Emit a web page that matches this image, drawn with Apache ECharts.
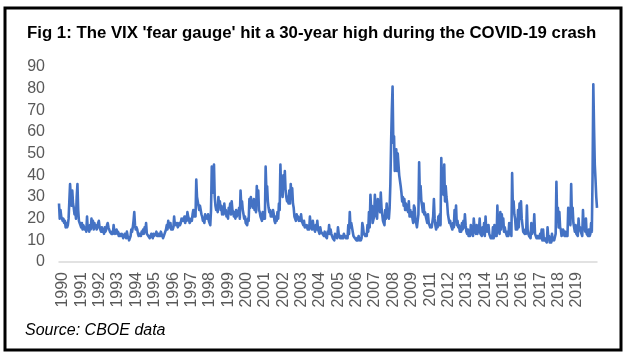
<!DOCTYPE html>
<html>
<head>
<meta charset="utf-8">
<script src="https://cdn.jsdelivr.net/npm/echarts@6/dist/echarts.min.js"></script>
<style>
html,body{margin:0;padding:0;background:#fff;}
#chart{width:630px;height:358px;}
</style>
</head>
<body>
<div id="chart"></div>
<script>
// Tick labels as shown on the original category axis (2010 is skipped there)
const tickLabels = ['1990','1991','1992','1993','1994','1995','1996','1997','1998','1999',
  '2000','2001','2002','2003','2004','2005','2006','2007','2008','2009',
  '2011','2012','2013','2014','2015','2016','2017','2018','2019'];
const yTicks = [0,10,20,30,40,50,60,70,80,90];

// VIX readings, two per month (first half, second half)
const vix1990s = [
  27,20, 24,21, 21,19, 20,18, 19,16, 18,16, 17,20, 28,36, 30,26, 33,27, 25,22, 24,20,
  30,36, 24,19, 18,17, 16,18, 15,17, 17,15, 16,14, 21,15, 16,14, 17,15, 20,16, 19,15,
  18,16, 17,15, 16,18, 19,16, 15,14, 16,14, 15,13, 16,14, 15,17, 18,16, 16,14, 14,13,
  14,13, 17,14, 13,14, 15,13, 14,12, 13,12, 12,13, 12,11, 12,13, 12,11, 14,12, 11,10,
  10,12, 15,14, 16,19, 23,17, 15,16, 15,13, 12,13, 13,12, 14,13, 15,13, 16,14, 18,13,
  13,12, 12,11, 12,13, 12,11, 13,12, 12,13, 14,12, 13,12, 13,12, 14,13, 12,11, 12,13,
  13,15, 17,15, 19,17, 16,18, 15,16, 15,16, 21,17, 18,17, 18,16, 17,18, 17,18, 20,19,
  20,19, 21,18, 21,19, 23,21, 20,18, 19,20, 19,22, 24,21, 23,21, 38,30, 30,26, 24,26,
  26,22, 21,19, 20,18, 22,20, 21,20, 22,19, 18,17, 24,44, 38,32, 45,30, 26,24, 26,23,
  30,26, 28,24, 26,22, 25,22, 27,23, 24,21, 23,20, 25,24, 27,22, 28,24, 23,21, 23,20
];
const vix2000s = [
  24,21, 23,22, 25,20, 33,26, 28,24, 22,20, 21,18, 18,17, 20,19, 29,25, 30,26, 28,25,
  29,24, 27,23, 35,28, 33,24, 23,21, 21,19, 23,20, 22,20, 44,33, 35,28, 25,23, 24,21,
  23,21, 24,22, 19,18, 21,19, 23,20, 27,24, 45,33, 35,30, 40,34, 42,33, 30,28, 30,27,
  33,27, 36,31, 34,27, 25,21, 21,19, 22,20, 21,19, 20,19, 22,19, 18,17, 19,16, 17,16,
  17,15, 16,15, 21,17, 17,15, 19,16, 16,14, 17,15, 19,15, 14,13, 16,14, 14,13, 13,12,
  14,12, 12,11, 14,13, 17,13, 15,13, 12,11, 11,10, 13,12, 12,11, 16,13, 12,11, 12,11,
  12,11, 13,12, 12,11, 12,11, 17,13, 23,16, 18,16, 14,12, 12,11, 11,10, 11,10, 12,10,
  11,10, 11,18, 16,13, 13,12, 13,12, 17,14, 23,16, 31,24, 26,18, 18,21, 31,24, 22,20,
  29,24, 28,23, 32,25, 22,19, 18,17, 24,20, 27,22, 21,20, 25,36, 55,70, 81,55, 58,42,
  45,52, 42,50, 50,40, 40,35, 32,28, 30,26, 29,24, 27,24, 26,23, 28,21, 24,21, 23,20
];
const vix2010s = [
  18,26, 25,19, 18,16, 16,22, 46,30, 35,28, 26,23, 27,22, 23,21, 21,18, 22,18, 18,16,
  17,16, 16,21, 29,20, 17,15, 18,16, 21,17, 22,17, 48,35, 43,31, 45,28, 35,30, 27,22,
  22,18, 19,17, 17,15, 18,16, 24,19, 26,17, 19,16, 17,14, 16,14, 18,15, 19,16, 22,17,
  14,13, 15,12, 14,12, 17,13, 14,12, 20,16, 14,13, 17,13, 16,14, 20,13, 13,12, 16,13,
  18,12, 21,14, 17,14, 17,13, 12,11, 12,11, 16,11, 17,12, 15,12, 26,15, 14,13, 23,15,
  22,17, 20,14, 16,14, 13,12, 14,12, 18,13, 17,12, 41,25, 28,22, 20,15, 18,15, 24,16,
  27,20, 28,20, 17,14, 14,13, 15,13, 26,15, 13,12, 12,11, 18,13, 16,14, 22,13, 13,11,
  12,11, 12,11, 13,11, 15,10, 15,10, 11,10, 10,9, 16,11, 12,9, 10,9, 13,10, 11,10,
  10,13, 37,20, 25,16, 23,16, 15,12, 13,15, 14,12, 14,12, 13,12, 25,18, 22,17, 36,21,
  25,18, 16,14, 17,13, 13,12, 20,15, 16,14, 13,12, 24,16, 17,14, 20,13, 13,12, 15,12
];
const vix2020 = [13,18, 14,40, 82,62, 45,38, 30,25];

const values = vix1990s.concat(vix2000s, vix2010s, vix2020);
// half-month categories
const periods = [];
for (let i = 0; i < values.length; i++) {
  const y = 1990 + Math.floor(i / 24);
  const m = Math.floor((i % 24) / 2) + 1;
  periods.push(y + '-' + (m < 10 ? '0' + m : m) + (i % 2 ? 'b' : 'a'));
}

const FONT = "'Liberation Sans', Arial, sans-serif";
const chart = echarts.init(document.getElementById('chart'), null, {renderer: 'canvas'});
chart.setOption({
  animation: false,
  backgroundColor: '#ffffff',
  title: {
    text: "Fig 1: The VIX 'fear gauge' hit a 30-year high during the COVID-19 crash",
    left: 22, top: 20,
    textStyle: {fontFamily: FONT, fontWeight: 'bold', fontSize: 16.8, color: '#000'}
  },
  graphic: [
    {type: 'rect', shape: {x: 5, y: 8, width: 616, height: 342},
     style: {fill: 'none', stroke: '#000', lineWidth: 3}, silent: true},
    {type: 'text', left: 25, top: 323,
     style: {text: 'Source: CBOE data', font: "italic 16px " + FONT, fill: '#000'}}
  ],
  grid: [
    {left: 59, right: 33, top: 67, bottom: 96},
    {left: 63, right: 53, top: 67, bottom: 96}
  ],
  xAxis: [
    {type: 'category', gridIndex: 0, data: periods, boundaryGap: false,
     axisLine: {show: true, lineStyle: {color: '#d9d9d9', width: 1.5}},
     axisTick: {show: false}, axisLabel: {show: false}, splitLine: {show: false}},
    {type: 'category', gridIndex: 1, data: tickLabels, boundaryGap: false,
     axisLine: {show: false}, axisTick: {show: false}, splitLine: {show: false},
     axisLabel: {interval: 0, rotate: 90, margin: 10, color: '#595959',
                 fontFamily: FONT, fontSize: 16}}
  ],
  yAxis: [
    {type: 'value', gridIndex: 0, min: yTicks[0], max: yTicks[yTicks.length - 1], interval: 10,
     axisLine: {show: false}, axisTick: {show: false}, splitLine: {show: false},
     axisLabel: {margin: 14, color: '#595959', fontFamily: FONT, fontSize: 16}},
    {type: 'value', gridIndex: 1, min: 0, max: 90, interval: 10, show: false}
  ],
  series: [{
    type: 'line', xAxisIndex: 0, yAxisIndex: 0, data: values,
    showSymbol: false, symbol: 'none',
    lineStyle: {color: '#4472C4', width: 2.6, join: 'round'}
  }]
});
</script>
</body>
</html>
